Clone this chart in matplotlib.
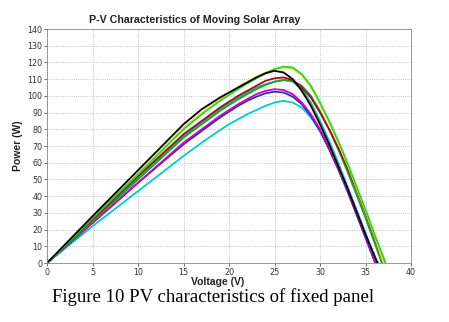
import numpy as np
import matplotlib
matplotlib.use("Agg")
import matplotlib.pyplot as plt

# voltage samples (V) shared by the curves, open-circuit voltage appended per curve
v_base = [0, 5, 10, 15, 17, 19, 20, 21, 22, 23, 24, 25, 26, 27, 28,
          29, 30, 31, 32, 33, 34, 35, 36]

cyan_p = [0, 22, 43, 64, 72, 79.5, 83, 86, 89, 91.5, 94, 96, 97, 96, 93,
          87, 79, 69, 57, 44, 31, 17, 4]
blue_p = [0, 24, 48, 71, 79, 87, 90.5, 94, 97, 99.5, 101.5, 102.5, 102, 99.5, 95,
          88, 79, 68, 56, 43, 29, 15, 1]
magenta_p = [0, 24, 48, 72, 80, 88, 91.5, 95, 98, 101, 103, 104, 103.5, 101, 96,
             89, 80, 69, 57, 44, 30, 16, 1]
teal_p = [0, 26, 51, 76, 84, 92, 95.5, 99, 102, 105, 107, 108.5, 109.5, 108.5, 104,
          96, 85, 73, 60, 46, 32, 18, 4]
green2_p = [0, 25, 50, 75, 83, 91, 94.5, 98, 101, 104, 106.5, 108.5, 109.5, 109, 106,
            100, 91, 80, 68, 55, 41, 27, 12]
red_p = [0, 26, 52, 77, 85, 93, 96.5, 100, 103, 106, 109, 110.5, 111, 109.5, 105,
         99, 90, 80, 69, 57, 44, 30, 15]
yellow_p = [0, 27, 54, 81, 90, 98, 102, 105.5, 108.5, 111.5, 114, 116, 117, 116, 112,
            105, 95, 84, 72, 59, 45, 31, 16]
green_p = [0, 27, 53, 80, 89, 97, 100.5, 104, 107.5, 110.5, 113.5, 116, 117.5, 117, 113,
           106, 96, 85, 73, 60, 46, 32, 17]
black_p = [0, 28, 55.5, 83, 92, 99, 102, 105, 108, 111, 113.5, 115, 114, 110, 103,
           94, 83, 71, 58, 45, 31, 17, 4]

curves = [
    ("#00cccc", cyan_p, 36.4),
    ("#3030a0", blue_p, 36.1),
    ("#cc00cc", magenta_p, 36.1),
    ("#20b0b0", teal_p, 36.3),
    ("#20a020", green2_p, 36.8),
    ("#a01010", red_p, 37.0),
    ("#e8e840", yellow_p, 37.0),
    ("#30d030", green_p, 37.2),
    ("#000000", black_p, 36.3),
]

fig = plt.figure(figsize=(4.49, 3.22), dpi=100)
ax = fig.add_axes([0.1047, 0.1832, 0.8107, 0.7267])

for color, p, voc in curves:
    ax.plot(v_base + [voc], p + [0], color=color, lw=1.3)

ax.set_xlim(0, 40)
ax.set_ylim(0, 140)
ax.set_xticks(np.arange(0, 41, 5))
ax.set_yticks(np.arange(0, 141, 10))
ax.grid(True, linestyle=":", color="#b0b0b0", lw=0.6)
ax.tick_params(labelsize=5.8, length=2, width=0.5, colors="#333333", pad=1.5)
for s in ax.spines.values():
    s.set_color("#888888")
    s.set_linewidth(0.6)

ax.set_title("P-V Characteristics of Moving Solar Array", fontsize=7.7,
             fontweight="bold", family="Liberation Sans", pad=4,
             color="#222222", x=0.407)
ax.set_xlabel("Voltage (V)", fontsize=7.5, fontweight="bold",
              family="Liberation Sans", labelpad=0, color="#222222", x=0.47)
ax.set_ylabel("Power (W)", fontsize=7.5, fontweight="bold",
              family="Liberation Sans", labelpad=3, color="#222222")

fig.text(0.475, 0.078, "Figure 10 PV characteristics of fixed panel",
         ha="center", va="center", fontsize=13.5, family="Liberation Serif")

fig.savefig("out.png", dpi=100)
